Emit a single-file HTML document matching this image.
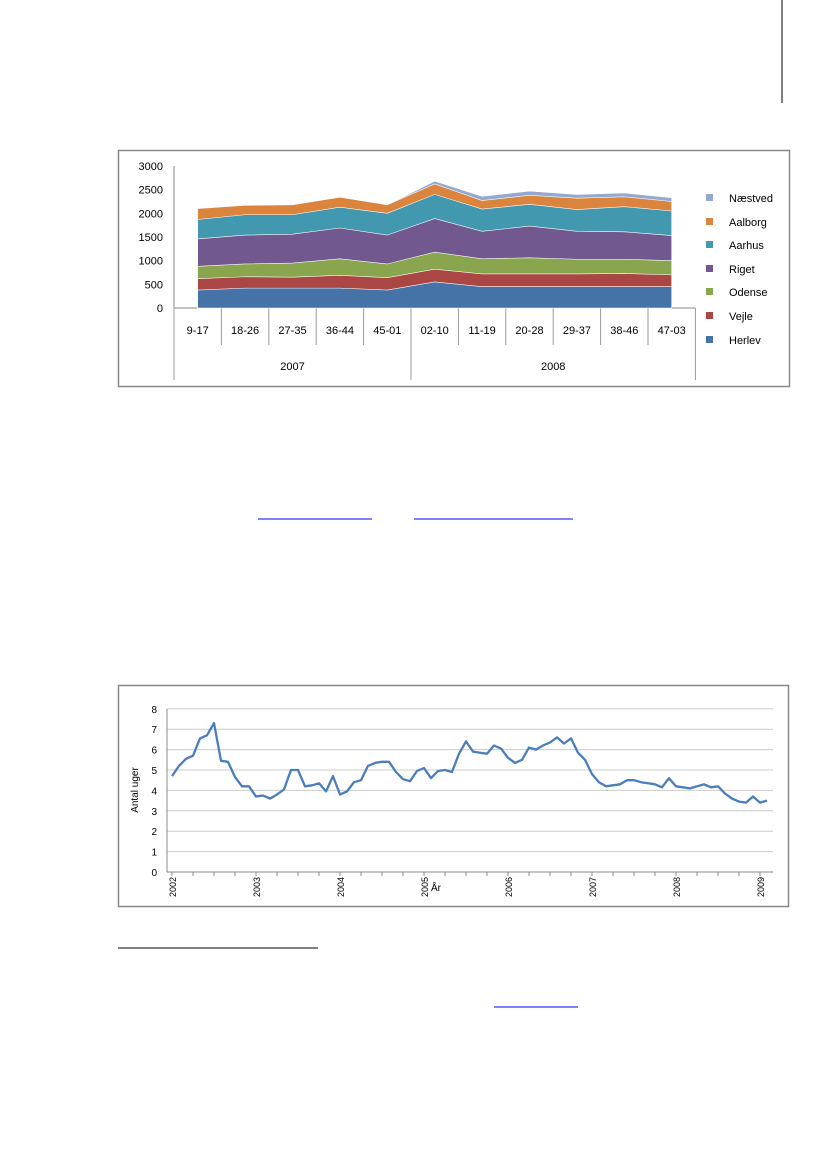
<!DOCTYPE html>
<html><head><meta charset="utf-8"><style>
html,body{margin:0;padding:0;background:#fff}
svg{display:block}
text{font-family:"Liberation Sans",sans-serif}
</style></head><body>
<svg width="827" height="1169" viewBox="0 0 827 1169" xmlns="http://www.w3.org/2000/svg">
<line x1="782" y1="0" x2="782" y2="103" stroke="#000" stroke-width="1"/>
<rect x="118.5" y="150.5" width="671" height="236" fill="#fff" stroke="#888" stroke-width="1.5"/>
<g id="gtop"></g>
<line x1="258" y1="519" x2="372" y2="519" stroke="#00f" stroke-width="1"/>
<line x1="414" y1="519" x2="573" y2="519" stroke="#00f" stroke-width="1"/>
<rect x="118.5" y="685.5" width="670" height="221" fill="#fff" stroke="#888" stroke-width="1.5"/>
<g id="gbot"></g>
<line x1="118" y1="948" x2="318" y2="948" stroke="#000" stroke-width="1"/>
<line x1="494" y1="1007" x2="578" y2="1007" stroke="#00f" stroke-width="1"/>
</svg>
<script>
(function(){
const NS="http://www.w3.org/2000/svg";
function el(p,t,a,txt){const e=document.createElementNS(NS,t);for(const k in a)e.setAttribute(k,a[k]);if(txt!==undefined)e.textContent=txt;p.appendChild(e);return e;}
const G=document.getElementById('gtop');
const y0=308,sc=142/3000,xl=174,cw=47.4;
for(let v=0;v<=3000;v+=500){const y=y0-v*sc;
 el(G,'text',{x:163,y:y+4,'text-anchor':'end','font-size':11,fill:'#000'},v);}
el(G,'line',{x1:xl,y1:166,x2:xl,y2:380,stroke:'#888'});
el(G,'line',{x1:xl,y1:y0,x2:xl+11*cw,y2:y0,stroke:'#888'});
const cats=['9-17','18-26','27-35','36-44','45-01','02-10','11-19','20-28','29-37','38-46','47-03'];
for(let i=0;i<=11;i++){const x=xl+i*cw;el(G,'line',{x1:x,y1:y0,x2:x,y2:(i==0||i==5||i==11)?380:345,stroke:'#999'});}
cats.forEach((c,i)=>el(G,'text',{x:xl+(i+.5)*cw,y:334,'text-anchor':'middle','font-size':11},c));
el(G,'text',{x:xl+2.5*cw,y:370,'text-anchor':'middle','font-size':11},'2007');
el(G,'text',{x:xl+8*cw,y:370,'text-anchor':'middle','font-size':11},'2008');
const S=[
 ['Herlev','#4572A7',[380,420,420,420,380,550,450,450,450,450,450]],
 ['Vejle','#AA4643',[620,660,650,690,640,820,720,720,720,730,700]],
 ['Odense','#89A54E',[880,930,950,1040,930,1180,1040,1060,1030,1030,1000]],
 ['Riget','#71588F',[1460,1540,1560,1690,1540,1890,1620,1730,1620,1610,1530]],
 ['Aarhus','#4198AF',[1870,1970,1970,2130,2000,2400,2090,2190,2080,2140,2050]],
 ['Aalborg','#DB843D',[2100,2170,2180,2340,2180,2620,2270,2380,2320,2350,2250]],
 ['Næstved','#93A9CF',[2100,2170,2180,2350,2180,2680,2360,2470,2400,2430,2330]]];
for(let s=S.length-1;s>=0;s--){const d=S[s][2];let p='M'+(xl+.5*cw)+','+y0;
 d.forEach((v,i)=>p+=' L'+(xl+(i+.5)*cw)+','+(y0-v*sc));p+=' L'+(xl+10.5*cw)+','+y0+'Z';
 el(G,'path',{d:p,fill:S[s][1],stroke:'#fff','stroke-width':0.6});}
const ly=[340,316,292,269,245,222,198];
S.forEach((s,i)=>{el(G,'rect',{x:706,y:ly[i]-4,width:7,height:7,fill:s[1]});
 el(G,'text',{x:729,y:ly[i]+4,'font-size':11},s[0]);});
const B=document.getElementById('gbot');
const b0=872,bs=20.4,bl=167,br=773;
for(let v=0;v<=8;v++){const y=b0-v*bs;
 if(v>0)el(B,'line',{x1:bl,y1:y,x2:br,y2:y,stroke:'#ccc'});
 el(B,'text',{x:157,y:y+4,'text-anchor':'end','font-size':10},v);}
el(B,'line',{x1:bl,y1:709,x2:bl,y2:b0,stroke:'#888'});
el(B,'line',{x1:bl,y1:b0,x2:br,y2:b0,stroke:'#888'});
for(let x=172;x<=772;x+=21)el(B,'line',{x1:x,y1:b0,x2:x,y2:b0+4,stroke:'#888'});
for(let k=0;k<8;k++){const x=172+84*k;
 el(B,'text',{transform:`translate(${x+4},877) rotate(-90)`,'text-anchor':'end','font-size':9},2002+k);}
el(B,'text',{transform:'translate(138,790) rotate(-90)','text-anchor':'middle','font-size':10},'Antal uger');
el(B,'text',{x:431,y:891,'font-size':10},'År');
const D=[4.7,5.2,5.55,5.7,6.55,6.7,7.3,5.45,5.4,4.65,4.2,4.2,3.7,3.75,3.6,3.8,4.05,5.0,5.0,4.2,4.25,4.35,3.95,4.7,3.8,3.95,4.4,4.5,5.2,5.35,5.4,5.4,4.9,4.55,4.45,4.95,5.1,4.6,4.95,5.0,4.9,5.8,6.4,5.9,5.85,5.8,6.2,6.05,5.6,5.35,5.5,6.1,6.0,6.2,6.35,6.6,6.3,6.55,5.85,5.5,4.8,4.4,4.2,4.25,4.3,4.5,4.5,4.4,4.35,4.3,4.15,4.6,4.2,4.15,4.1,4.2,4.3,4.15,4.2,3.85,3.6,3.45,3.4,3.7,3.4,3.5];
let p='';D.forEach((v,i)=>p+=(i?' L':'M')+(172+i*7)+','+(b0-v*bs).toFixed(1));
el(B,'path',{d:p,fill:'none',stroke:'#4A7EBB','stroke-width':2.3,'stroke-linejoin':'round'});
})();
</script>
</body></html>
